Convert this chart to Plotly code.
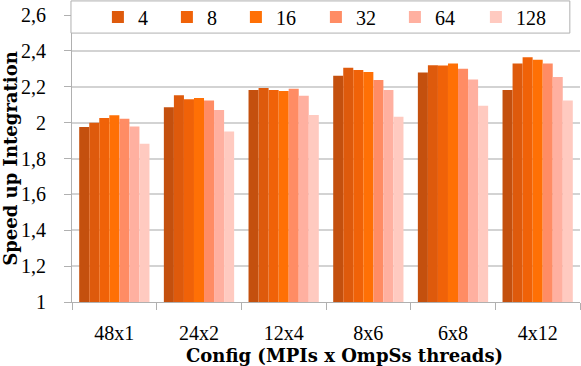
import plotly.graph_objects as go

# configurations on the x axis
configs = ["48x1", "24x2", "12x4", "8x6", "6x8", "4x12"]

# speed up per thread count (first series has no legend entry)
series_names = ["2", "4", "8", "16", "32", "64", "128"]
speedup = [
    [1.975, 2.086, 2.182, 2.261, 2.280, 2.182],
    [2.000, 2.152, 2.193, 2.306, 2.320, 2.330],
    [2.026, 2.130, 2.182, 2.293, 2.319, 2.365],
    [2.041, 2.137, 2.176, 2.282, 2.330, 2.350],
    [2.022, 2.124, 2.189, 2.237, 2.300, 2.330],
    [1.978, 2.070, 2.150, 2.182, 2.241, 2.254],
    [1.882, 1.950, 2.043, 2.033, 2.094, 2.124],
]
colors = ["#c4500e", "#de5a0c", "#f06208", "#ff7005", "#ff8c64", "#ffb0a0", "#ffcac0"]
# width of each legend entry, px
entry_widths = [0, 24, 24, 35, 34, 36, 40]

font = "Liberation Serif"
title_font = dict(family="DejaVu Serif", size=18, color="black")

fig = go.Figure()
for i, name in enumerate(series_names):
    fig.add_trace(go.Bar(
        x=configs,
        y=speedup[i],
        name=name,
        marker=dict(color=colors[i], line=dict(width=0)),
        showlegend=(i > 0),
        legendwidth=entry_widths[i],
    ))

# legend frame (white box that covers the top of the plot)
fig.add_shape(type="rect", xref="paper", yref="paper",
              x0=-0.002, x1=0.980, y0=0.937, y1=1.049,
              fillcolor="white", line=dict(color="#b0b0b0", width=1),
              layer="above")

# x axis title, sits a bit right of centre like the original
fig.add_annotation(text="<b>Config (MPIs x OmpSs threads)</b>",
                   xref="paper", yref="paper", x=0.537, y=-0.186,
                   xanchor="center", yanchor="middle",
                   showarrow=False, font=title_font)

fig.update_layout(
    width=581,
    height=366,
    barmode="group",
    bargap=0.17,
    bargroupgap=0,
    plot_bgcolor="white",
    paper_bgcolor="white",
    font=dict(family=font, size=20, color="black"),
    margin=dict(l=72, r=1, t=15, b=64, autoexpand=False),
    legend=dict(
        orientation="h",
        x=0.051, xanchor="left",
        y=0.993, yanchor="middle",
        bgcolor="rgba(0,0,0,0)",
        borderwidth=0,
        font=dict(family=font, size=20),
        traceorder="normal",
    ),
)

fig.update_xaxes(
    automargin=False,
    showline=True, linecolor="#b0b0b0", linewidth=1,
    ticks="outside", tickson="boundaries", ticklen=7, tickcolor="#b0b0b0",
    ticklabelstandoff=13,
    tickfont=dict(family=font, size=20),
    showgrid=False,
)
fig.update_yaxes(
    automargin=False,
    range=[1, 2.6],
    tickvals=[1, 1.2, 1.4, 1.6, 1.8, 2, 2.2, 2.4, 2.6],
    ticktext=["1", "1,2", "1,4", "1,6", "1,8", "2", "2,2", "2,4", "2,6"],
    showline=True, linecolor="#b0b0b0", linewidth=1,
    ticks="outside", ticklen=7, tickcolor="#b0b0b0",
    ticklabelstandoff=14,
    tickfont=dict(family=font, size=20),
    showgrid=True, gridcolor="#d3d3d3", gridwidth=1.5,
    zeroline=False,
    title=dict(text="<b>Speed up Integration</b>", standoff=2,
               font=title_font),
)

# drop the default body margin so the figure sits at the window corner
fig.write_html("out.html", config={"displayModeBar": False},
               post_script="document.body.style.margin = '0';")
